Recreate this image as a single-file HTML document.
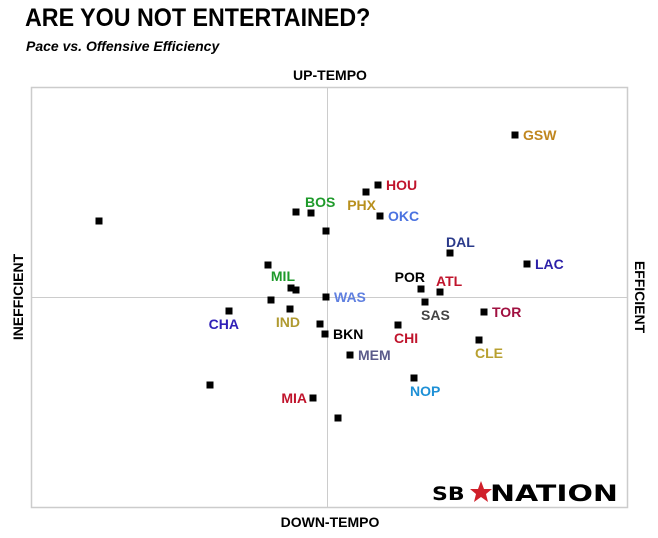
<!DOCTYPE html>
<html><head><meta charset="utf-8"><style>
body{margin:0;background:#fff;width:658px;height:538px;overflow:hidden;font-family:"Liberation Sans",sans-serif}
#title{position:absolute;left:25px;top:4px;font-size:25px;font-weight:bold;letter-spacing:0px;color:#000;transform:scaleX(0.93);transform-origin:left}
#sub{position:absolute;left:26px;top:38px;font-size:14px;font-weight:bold;font-style:italic;color:#000}
</style></head><body>
<div id="title">ARE YOU NOT ENTERTAINED?</div>
<div id="sub">Pace vs. Offensive Efficiency</div>
<svg id="chart" width="658" height="538" style="position:absolute;left:0;top:0"></svg>
<script>
const teams=["GSW","HOU","PHX","BOS","OKC","DAL","LAC","POR","ATL","SAS","TOR","CLE","CHI","MEM","NOP","BKN","WAS","MIL","IND","CHA","MIA","","","","","","","","",""];
const xVals=[188,51,39,-16,53,123,200,94,113,98,157,152,71,23,87,-2,-1,-36,-37,-98,-14,-228,-31,-1,-59,-56,-31,-7,-117,11];
const yVals=[162,112,105,84,81,44,33,8,5,-5,-15,-43,-28,-58,-81,-37,0,9,-12,-14,-101,76,85,66,32,-3,7,-27,-88,-121];
const colors=["#c0861e","#c0142c","#b8901e","#1e9a2a","#4a72e0","#2a3a8a","#2b1fa8","#000","#c0142c","#444","#a01040","#b8a030","#c0142c","#5a5a8a","#1e90d6","#000","#6080e0","#1e9a2a","#b09a30","#3020b8","#c0142c","","","","","","","","",""];
const pos=["r","r","bl","ar","r","a","r","al","a","b","r","b","b","r","b","r","r","al","bl","bl","l","","","","","","","","",""];
const xTitle=["DOWN-TEMPO","UP-TEMPO"],yTitle=["INEFFICIENT","EFFICIENT"];
const L=31,R=627,T=87,B=507;
const sx=v=>327+v, sy=v=>297-v;
const svg=document.getElementById('chart');const NS="http://www.w3.org/2000/svg";
function mk(t,a){const e=document.createElementNS(NS,t);for(const k in a)e.setAttribute(k,a[k]);svg.appendChild(e);return e;}
let r=mk('rect',{x:L+.5,y:T+.5,width:R-L,height:B-T,fill:'none',stroke:'#ccc','stroke-width':1.5});


let h=mk('line',{x1:L,x2:R,y1:sy(0)+.5,y2:sy(0)+.5,stroke:'#ccc'});


let v=mk('line',{x1:sx(0)+.5,x2:sx(0)+.5,y1:T,y2:B,stroke:'#ccc'});


function txt(s,x,y,extra){const e=mk('text',Object.assign({x:x,y:y,'font-size':14,'font-weight':'bold','font-family':'Liberation Sans, sans-serif'},extra));e.textContent=s;return e;}
let t1=txt(xTitle[1],330,80,{'text-anchor':'middle'});


let t2=txt(xTitle[0],330,527,{'text-anchor':'middle'});


let t3=txt(yTitle[0],23,297,{'text-anchor':'middle',transform:'rotate(-90 23 297)'});


let t4=txt(yTitle[1],635,297,{'text-anchor':'middle',transform:'rotate(90 635 297)'});


teams.forEach((tm,i)=>{
 const x=sx(xVals[i]),y=sy(yVals[i]);
 const p=mk('rect',{x:x-3.5,y:y-3.5,width:7,height:7,fill:'#000'});
 
 
 if(!tm)return;
 let lx=x,ly=y+5,anc='start';
 const ps=pos[i];
 if(ps==='r'){lx=x+8;}
 else if(ps==='l'){lx=x-6;anc='end';}
 else if(ps==='a'){lx=x-4;ly=y-6;}
 else if(ps==='al'){lx=x+4;ly=y-7;anc='end';}
 else if(ps==='ar'){lx=x-6;ly=y-6;}
 else if(ps==='b'){lx=x-4;ly=y+18;}
 else if(ps==='bl'){lx=x+10;ly=y+18;anc='end';}
 const e=txt(tm,lx,ly,{fill:colors[i],'text-anchor':anc});
 
 
});
const lg=mk('g',{});


const lt=txt('SB',432,501,{'font-size':22,'font-weight':'900','font-family':'DejaVu Sans, sans-serif',transform:'scale(1,0.85)','transform-origin':'432 494'});


const st=mk('polygon',{points:'481,481 484,489 492,489 486,494 488,502 481,497 474,502 476,494 470,489 478,489',fill:'#d0202a'});


const lt2=txt('NATION',490,501,{'font-size':22,'font-weight':'900','font-family':'DejaVu Sans, sans-serif',textLength:128,lengthAdjust:'spacingAndGlyphs'});


</script>
</body></html>
